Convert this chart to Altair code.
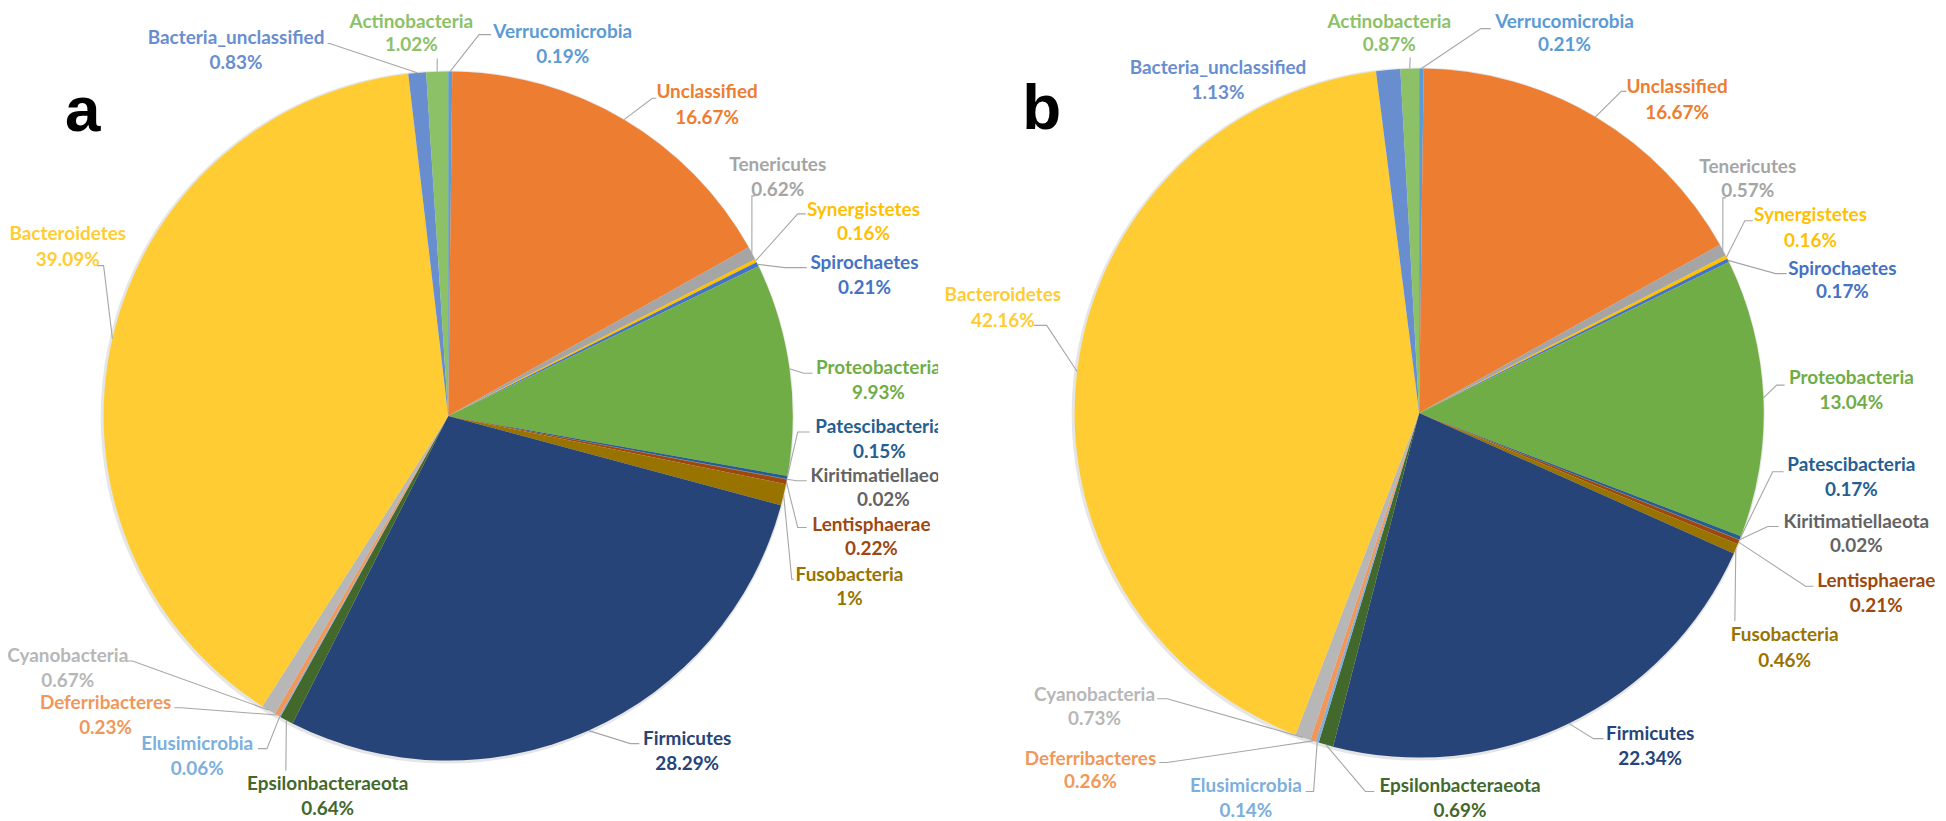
import math
import altair as alt
import pandas as pd

# ---------------- data ----------------
phyla = ["Verrucomicrobia", "Unclassified", "Tenericutes", "Synergistetes", "Spirochaetes",
         "Proteobacteria", "Patescibacteria", "Kiritimatiellaeota", "Lentisphaerae", "Fusobacteria",
         "Firmicutes", "Epsilonbacteraeota", "Elusimicrobia", "Deferribacteres", "Cyanobacteria",
         "Bacteroidetes", "Bacteria_unclassified", "Actinobacteria"]
values_a = [0.19, 16.67, 0.62, 0.16, 0.21, 9.93, 0.15, 0.02, 0.22, 1,
            28.29, 0.64, 0.06, 0.23, 0.67, 39.09, 0.83, 1.02]
values_b = [0.21, 16.67, 0.57, 0.16, 0.17, 13.04, 0.17, 0.02, 0.21, 0.46,
            22.34, 0.69, 0.14, 0.26, 0.73, 42.16, 1.13, 0.87]
colors = ["#5B9BD5", "#ED7D31", "#A5A5A5", "#FFC000", "#4472C4", "#70AD47", "#255E91",
          "#636363", "#9E480E", "#997300", "#264478", "#43682B", "#7CAFDD", "#F1975A",
          "#B7B7B7", "#FFCD33", "#698ED0", "#8CC168"]
panel_letters = ["a", "b"]

# ---------------- layout (page pixels) ----------------
PIE = {"a": (450, 416, 346), "b": (1425, 413, 346)}
ORIGIN = {"a": (8, 8), "b": (942, 8)}
WIDTH = {"a": 934, "b": 1004}
HEIGHT = 812
LETTER_POS = {"a": (83, 130), "b": (1046, 128)}

# name: (label x, name y, pct y, elbow, end)  -- elbow None => no leader
LAB = {
    "a": {
        "Verrucomicrobia": (565, 30, 56, (481, 33), (493, 33)),
        "Unclassified": (710, 91, 117, (655, 97), (659, 97)),
        "Tenericutes": (781, 164, 189, (755, 195), (758, 195)),
        "Synergistetes": (867, 209, 233, (801, 213), (809, 213)),
        "Spirochaetes": (868, 262, 287, (788, 267), (810, 267)),
        "Proteobacteria": (882, 368, 393, (807, 373), (816, 373)),
        "Patescibacteria": (883, 427, 452, (801, 432), (813, 432)),
        "Kiritimatiellaeota": (887, 476, 500, (800, 481), (810, 481)),
        "Lentisphaerae": (875, 525, 550, (801, 528), (810, 528)),
        "Fusobacteria": (853, 576, 600, (795, 580), (797, 580)),
        "Firmicutes": (690, 740, 765, (633, 745), (642, 745)),
        "Epsilonbacteraeota": (329, 786, 811, (287, 772), (287, 772)),
        "Elusimicrobia": (198, 745, 770, (268, 750), (259, 750)),
        "Deferribacteres": (106, 704, 729, (182, 709), (175, 709)),
        "Cyanobacteria": (68, 657, 682, (133, 662), (127, 662)),
        "Bacteroidetes": (68, 233, 259, (104, 265), (97, 265)),
        "Bacteria_unclassified": (237, 36, 62, (331, 42), (329, 42)),
        "Actinobacteria": (413, 20, 43, (439, 57), (439, 57)),
    },
    "b": {
        "Verrucomicrobia": (1571, 20, 43, (1487, 27), (1497, 27)),
        "Unclassified": (1684, 86, 112, (1628, 90), (1633, 90)),
        "Tenericutes": (1755, 166, 190, (1730, 197), (1733, 197)),
        "Synergistetes": (1818, 214, 240, (1752, 220), (1760, 220)),
        "Spirochaetes": (1850, 268, 292, (1783, 273), (1794, 273)),
        "Proteobacteria": (1859, 378, 403, (1784, 385), (1792, 385)),
        "Patescibacteria": (1859, 465, 490, (1780, 472), (1791, 472)),
        "Kiritimatiellaeota": (1864, 522, 547, (1775, 527), (1786, 527)),
        "Lentisphaerae": (1884, 582, 607, (1813, 587), (1821, 587)),
        "Fusobacteria": (1792, 636, 662, (1742, 622), (1742, 622)),
        "Firmicutes": (1657, 735, 760, (1600, 740), (1610, 740)),
        "Epsilonbacteraeota": (1466, 788, 813, (1371, 793), (1380, 793)),
        "Elusimicrobia": (1251, 788, 813, (1319, 793), (1311, 793)),
        "Deferribacteres": (1095, 760, 784, (1172, 764), (1164, 764)),
        "Cyanobacteria": (1099, 696, 720, (1172, 700), (1162, 700)),
        "Bacteroidetes": (1007, 295, 321, (1051, 325), (1038, 325)),
        "Bacteria_unclassified": (1223, 67, 92, None, None),
        "Actinobacteria": (1395, 20, 43, (1416, 56), (1416, 56)),
    },
}

FONT = "Lato"
FS = 19
LEADER = "#A6A6A6"


def panel(key, values):
    ox, oy = ORIGIN[key]
    cx, cy, r = PIE[key]
    df = pd.DataFrame({"name": phyla, "value": values, "color": colors,
                       "idx": list(range(len(phyla)))})

    nox = alt.X("px:Q", scale=None, axis=None)
    noy = alt.Y("py:Q", scale=None, axis=None)

    shadow = alt.Chart(pd.DataFrame({"k": [1]})).mark_arc(
        radius=r + 2, color="#000000", opacity=0.10
    ).encode(theta=alt.value(0), theta2=alt.value(2 * math.pi),
             x=alt.value(cx - ox - 1), y=alt.value(cy - oy + 1))

    pie = alt.Chart(df).mark_arc(radius=r).encode(
        theta=alt.Theta("value:Q", stack=True),
        color=alt.Color("name:N", scale=alt.Scale(domain=phyla, range=colors), legend=None),
        order=alt.Order("idx:Q"),
        x=alt.value(cx - ox), y=alt.value(cy - oy),
    )

    # leader lines: start on slice edge at mid-angle (computed from data)
    rows = []
    cum = 0.0
    total = sum(values)
    for name, v in zip(phyla, values):
        mid = 2 * math.pi * (cum + v / 2) / total
        cum += v
        lx, ly, py2, elbow, end = LAB[key][name]
        if elbow is None:
            continue
        sx = cx + r * math.sin(mid)
        sy = cy - r * math.cos(mid)
        pts = [(sx, sy), elbow, end]
        for i, (x, y) in enumerate(pts):
            rows.append({"name": name, "seq": i, "px": x - ox, "py": y - oy})
    lines = alt.Chart(pd.DataFrame(rows)).mark_line(
        color=LEADER, strokeWidth=1.1
    ).encode(x=nox, y=noy, detail="name:N", order="seq:Q")

    trows = []
    for name, v, c in zip(phyla, values, colors):
        lx, ly, py2, elbow, end = LAB[key][name]
        trows.append({"t": name, "px": lx - ox, "py": ly - oy, "c": c})
        trows.append({"t": f"{v:g}%", "px": lx - ox, "py": py2 - oy, "c": c})
    texts = alt.Chart(pd.DataFrame(trows)).mark_text(
        font=FONT, fontSize=FS, fontWeight="bold", align="center", baseline="middle",
        clip=(key == "a")
    ).encode(x=nox, y=noy, text="t:N", color=alt.Color("c:N", scale=None))

    lx, ly = LETTER_POS[key]
    letter = alt.Chart(pd.DataFrame({"t": [key], "px": [lx - ox], "py": [ly - oy]})).mark_text(
        font="Liberation Sans", fontSize=64, fontWeight="bold", align="center",
        baseline="alphabetic", color="#000000"
    ).encode(x=nox, y=noy, text="t:N")

    return alt.layer(shadow, pie, lines, texts, letter).properties(
        width=WIDTH[key], height=HEIGHT)


chart = alt.hconcat(panel("a", values_a), panel("b", values_b), spacing=0).properties(
    padding=0
).configure_view(stroke=None)

chart.save("out.html", embed_options={"renderer": "svg", "actions": False})
